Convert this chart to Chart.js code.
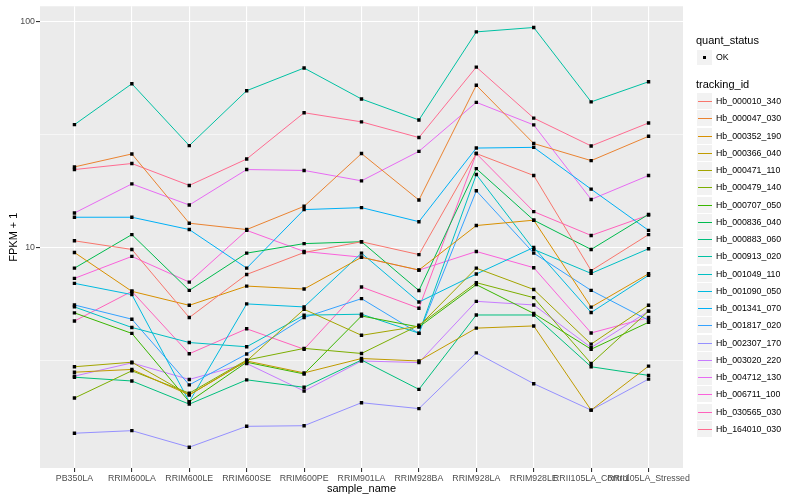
<!DOCTYPE html>
<html>
<head>
<meta charset="utf-8">
<script src="https://cdn.jsdelivr.net/npm/chart.js@4.4.1/dist/chart.umd.min.js"></script>
<style>
  body { margin: 0; background: #fff; }
  #wrap { position: relative; width: 800px; height: 500px; font-family: "Liberation Sans", Arial, sans-serif; }
  #chart { position: absolute; left: 0; top: 0; }
  .lg { position: absolute; white-space: nowrap; color: #000; }
  .lg-title { font-size: 11px; line-height: 13px; }
  .lg-text { font-size: 8.8px; line-height: 10px; }
  .lg-key { position: absolute; background: #f2f2f2; box-sizing: border-box; border: 1px solid #fff; }
</style>
</head>
<body>
<div id="wrap">
  <canvas id="chart" width="800" height="500"></canvas>
</div>
<script>
var fontFamily = '"Liberation Sans", Arial, Helvetica, sans-serif';

var samples = ['PB350LA', 'RRIM600LA', 'RRIM600LE', 'RRIM600SE', 'RRIM600PE', 'RRIM901LA',
               'RRIM928BA', 'RRIM928LA', 'RRIM928LE', 'RRII105LA_Control', 'RRII105LA_Stressed'];

var trackingIds = ['Hb_000010_340', 'Hb_000047_030', 'Hb_000352_190', 'Hb_000366_040', 'Hb_000471_110',
                   'Hb_000479_140', 'Hb_000707_050', 'Hb_000836_040', 'Hb_000883_060', 'Hb_000913_020',
                   'Hb_001049_110', 'Hb_001090_050', 'Hb_001341_070', 'Hb_001817_020', 'Hb_002307_170',
                   'Hb_003020_220', 'Hb_004712_130', 'Hb_006711_100', 'Hb_030565_030', 'Hb_164010_030'];

var lineColors = ['#F8766D', '#EA8331', '#D89000', '#C09B00', '#A3A500', '#7CAE00', '#39B600', '#00BB4E',
                  '#00BF7D', '#00C1A3', '#00BFC4', '#00BAE0', '#00B0F6', '#35A2FF', '#9590FF', '#C77CFF',
                  '#E76BF3', '#FA62DB', '#FF62BC', '#FF6C91'];

// FPKM + 1, one value per sample
var hb_000010_340 = [10.7, 9.8, 4.9, 7.6, 9.5, 10.6, 9.3, 26.0, 20.8, 7.9, 11.4];
var hb_000047_030 = [22.7, 25.9, 12.8, 12.0, 15.2, 26.0, 16.2, 52.1, 28.8, 24.2, 31.0];
var hb_000352_190 = [9.5, 6.4, 5.55, 6.75, 6.55, 9.05, 7.95, 12.5, 13.2, 5.45, 7.65];
var hb_000366_040 = [2.81, 2.89, 2.23, 3.15, 2.79, 3.23, 3.15, 4.4, 4.5, 1.91, 2.99];
var hb_000471_110 = [2.97, 3.11, 2.23, 3.15, 5.33, 4.09, 4.49, 8.1, 6.52, 3.74, 5.55];
var hb_000479_140 = [2.16, 2.85, 2.27, 3.18, 3.58, 3.4, 4.53, 6.99, 6.0, 3.07, 5.23];
var hb_000707_050 = [5.14, 4.17, 2.08, 3.11, 2.76, 4.98, 4.45, 6.85, 5.11, 3.55, 4.67];
var hb_000836_040 = [8.1, 11.4, 6.46, 9.44, 10.4, 10.6, 6.45, 22.3, 13.2, 9.8, 14.0];
var hb_000883_060 = [2.67, 2.57, 2.03, 2.6, 2.41, 3.18, 2.36, 5.03, 5.03, 2.97, 2.72];
var hb_000913_020 = [34.9, 52.9, 28.2, 49.3, 62.1, 45.3, 36.6, 89.7, 93.8, 44.0, 54.0];
var hb_001049_110 = [5.46, 4.43, 3.8, 3.64, 5.02, 5.07, 4.18, 21.0, 9.8, 7.68, 9.87];
var hb_001090_050 = [6.94, 6.19, 2.08, 5.63, 5.46, 9.44, 5.74, 7.63, 10.0, 5.16, 7.53];
var hb_001341_070 = [13.6, 13.6, 12.0, 8.1, 14.7, 15.0, 13.0, 27.5, 27.7, 18.1, 11.9];
var hb_001817_020 = [5.57, 4.82, 2.47, 3.38, 4.9, 5.94, 4.17, 17.8, 9.44, 6.46, 4.77];
var hb_002307_170 = [1.51, 1.55, 1.31, 1.62, 1.63, 2.06, 1.94, 3.42, 2.5, 1.91, 2.62];
var hb_003020_220 = [2.7, 3.09, 2.61, 3.07, 2.32, 3.15, 3.1, 5.78, 5.57, 3.61, 5.23];
var hb_004712_130 = [14.2, 19.1, 15.4, 22.1, 21.9, 19.7, 26.6, 43.8, 34.8, 16.3, 20.8];
var hb_006711_100 = [7.3, 9.13, 7.03, 11.9, 9.6, 9.06, 7.94, 9.6, 8.14, 4.19, 4.9];
var hb_030565_030 = [4.73, 6.4, 3.39, 4.37, 3.55, 6.69, 5.39, 26.0, 14.4, 11.3, 13.9];
var hb_164010_030 = [22.1, 23.5, 18.8, 24.6, 39.4, 35.9, 30.6, 62.7, 37.3, 28.1, 35.5];

var seriesValues = [hb_000010_340, hb_000047_030, hb_000352_190, hb_000366_040, hb_000471_110,
                    hb_000479_140, hb_000707_050, hb_000836_040, hb_000883_060, hb_000913_020,
                    hb_001049_110, hb_001090_050, hb_001341_070, hb_001817_020, hb_002307_170,
                    hb_003020_220, hb_004712_130, hb_006711_100, hb_030565_030, hb_164010_030];

var yMajor = [10, 100];
var yGrid = [3.1623, 10, 31.623, 100];

function isMajor(v) {
    return yMajor.indexOf(v) !== -1;
}

var datasets = trackingIds.map(function (id, i) {
    return {
        label: id,
        data: seriesValues[i].map(function (v, j) { return { x: j, y: v }; }),
        borderColor: lineColors[i],
        borderWidth: 1,
        pointStyle: 'rect',
        pointRadius: 2.4,
        pointBackgroundColor: '#000',
        pointBorderWidth: 0,
        tension: 0,
        fill: false
    };
});

var panelBg = {
    id: 'panelBg',
    beforeDraw: function (chart) {
        var a = chart.chartArea, c = chart.ctx;
        c.save();
        c.fillStyle = '#EBEBEB';
        c.fillRect(a.left, a.top, a.right - a.left, a.bottom - a.top);
        c.restore();
    }
};

new Chart(document.getElementById('chart'), {
    type: 'line',
    data: { datasets: datasets },
    plugins: [panelBg],
    options: {
        responsive: false,
        animation: false,
        layout: { padding: { top: 5, right: 117, left: 0, bottom: 0 } },
        plugins: { legend: { display: false }, tooltip: { enabled: false } },
        scales: {
            x: {
                type: 'linear',
                min: -0.6,
                max: samples.length - 0.4,
                afterBuildTicks: function (s) {
                    s.ticks = samples.map(function (n, i) { return { value: i }; });
                },
                afterFit: function (s) { s.height = 32; },
                border: { display: false },
                grid: { color: '#ffffff', lineWidth: 1.1, tickColor: '#333333', tickLength: 4 },
                ticks: {
                    autoSkip: false, maxRotation: 0, minRotation: 0, padding: 1,
                    color: '#4d4d4d', font: { size: 8.8, family: fontFamily },
                    callback: function (v) { return samples[v]; }
                },
                title: {
                    display: true, text: 'sample_name', color: '#000',
                    font: { size: 11, family: fontFamily }, padding: { top: 0, bottom: 4 }
                }
            },
            y: {
                type: 'logarithmic',
                min: 1.06,
                max: 116.4,
                afterBuildTicks: function (s) {
                    s.ticks = yGrid.map(function (v) { return { value: v }; });
                },
                afterFit: function (s) { s.width = 40; },
                border: { display: false },
                grid: {
                    color: '#ffffff',
                    lineWidth: function (ctx) { return isMajor(ctx.tick.value) ? 1.1 : 0.55; },
                    tickColor: function (ctx) { return isMajor(ctx.tick.value) ? '#333333' : 'rgba(0,0,0,0)'; },
                    tickLength: 4
                },
                ticks: {
                    padding: 1, color: '#4d4d4d', font: { size: 8.8, family: fontFamily },
                    callback: function (v) { return isMajor(v) ? String(v) : ''; }
                },
                title: {
                    display: true, text: 'FPKM + 1', color: '#000',
                    font: { size: 11, family: fontFamily }, padding: { top: 7, bottom: 0 }
                }
            }
        }
    }
});

// ggplot-style legend at the right
var wrap = document.getElementById('wrap');
function addEl(cls, left, top, text, css) {
    var d = document.createElement('div');
    d.className = cls;
    d.style.left = left + 'px';
    d.style.top = top + 'px';
    if (text) d.textContent = text;
    if (css) d.style.cssText += css;
    wrap.appendChild(d);
    return d;
}

addEl('lg lg-title', 696, 34, 'quant_status');
addEl('lg-key', 696, 49, '', 'width:17px;height:17px;');
addEl('', 703, 56, '', 'position:absolute;width:3px;height:3px;background:#000;');
addEl('lg lg-text', 716, 52, 'OK');

addEl('lg lg-title', 696, 77.5, 'tracking_id');
var keyStep = 17.26, keyTop = 92;
trackingIds.forEach(function (id, i) {
    var top = Math.round(keyTop + i * keyStep);
    addEl('lg-key', 696, top, '', 'width:17px;height:18px;');
    addEl('', 698, top + 9, '', 'position:absolute;width:14px;height:1px;background:' + lineColors[i] + ';');
    addEl('lg lg-text', 716, top + 4, id);
});
</script>
</body>
</html>
